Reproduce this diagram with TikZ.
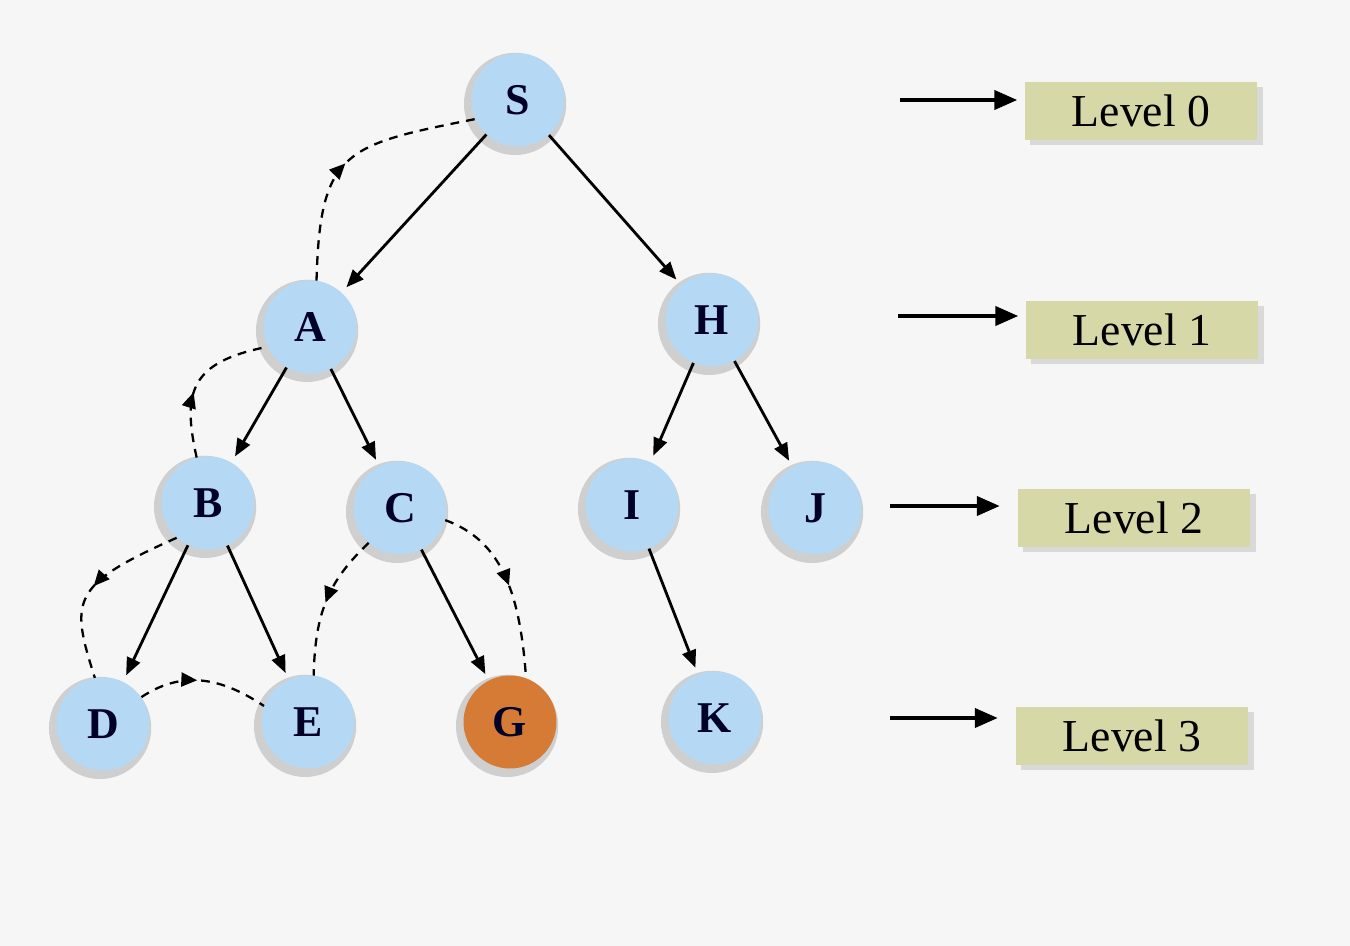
\documentclass[tikz,border=0pt]{standalone}
\usepackage{fontspec}
\setmainfont{Liberation Serif}
\usetikzlibrary{arrows.meta,shadows,decorations.markings}

\definecolor{pagebg}{HTML}{F6F6F6}
\definecolor{nodeblue}{HTML}{B5D8F4}
\definecolor{goalorange}{HTML}{D67B36}
\definecolor{levelkhaki}{HTML}{D6D9A7}
\definecolor{halo}{HTML}{CFCFCF}

\tikzset{
  treenode/.style={circle, fill=nodeblue, minimum size=1.86cm, inner sep=0pt,
    font=\fontsize{25}{30}\selectfont\bfseries, text=black!85!blue,
    drop shadow={shadow xshift=-1.5pt, shadow yshift=-2pt, shadow scale=1.1,
      fill=halo, opacity=1}},
  goalnode/.style={treenode, fill=goalorange},
  levelbox/.style={rectangle, fill=levelkhaki, minimum width=4.66cm,
    minimum height=1.16cm, inner sep=0pt, font=\fontsize{26}{30}\selectfont,
    drop shadow={shadow xshift=3pt, shadow yshift=-3pt, fill=black!15, opacity=1}},
  edge/.style={line width=1.6pt, -{Triangle[length=10pt,width=8pt]}},
  levelarrow/.style={line width=1.8pt, -{Triangle[length=13pt,width=11pt]}},
  walk/.style={line width=1.3pt, dash pattern=on 5pt off 4pt,
    postaction={decorate},
    decoration={markings, mark=at position #1 with
      {\arrow{Triangle[length=9pt,width=8pt]}}}}
}

\begin{document}
\begin{tikzpicture}[x=0.02cm, y=-0.02cm]
  % page
  \fill[pagebg] (0,0) rectangle (1350,946);
  \useasboundingbox (0,0) rectangle (1350,946);

  % tree nodes
  \node[treenode] (S) at (518,100) {S};
  \node[treenode] (A) at (310,327) {A};
  \node[treenode] (H) at (712,320) {H};
  \node[treenode] (B) at (208,503) {B};
  \node[treenode] (C) at (400,508) {C};
  \node[treenode] (I) at (632,505) {I};
  \node[treenode] (J) at (815,508) {J};
  \node[treenode] (D) at (103,724) {D};
  \node[treenode] (E) at (308,722) {E};
  \node[goalnode] (G) at (510,722) {G};
  \node[treenode] (K) at (715,718) {K};

  % tree edges
  \draw[edge, shorten >=4pt] (S) -- (A);
  \draw[edge, shorten >=4pt] (S) -- (H);
  \draw[edge, shorten >=4pt] (A) -- (B);
  \draw[edge, shorten >=4pt] (A) -- (C);
  \draw[edge, shorten >=4pt] (H) -- (I);
  \draw[edge, shorten >=4pt] (H) -- (J);
  \draw[edge, shorten >=4pt] (B) -- (D);
  \draw[edge, shorten >=4pt] (B) -- (E);
  \draw[edge, shorten >=4pt] (C) -- (G);
  \draw[edge, shorten >=4pt] (I) -- (K);

  % dashed search walk
  \draw[walk=0.47] (A.82) .. controls (320,150) and (345,145) .. (S.204);
  \draw[walk=0.42] (B.104) .. controls (182,392) and (190,362) .. (A.205);
  \draw[walk=0.5] (B.228) .. controls (70,585) and (70,600) .. (D.100);
  \draw[walk=0.45] (D.35) .. controls (185,668) and (225,680) .. (E.160);
  \draw[walk=0.5] (C.228) .. controls (330,580) and (315,610) .. (E.83);
  \draw[walk=0.5] (C.345) .. controls (500,540) and (520,590) .. (G.70);

  % level labels
  \node[levelbox] (L0) at (1141,111) {Level 0};
  \node[levelbox] (L1) at (1142,330) {Level 1};
  \node[levelbox] (L2) at (1134,518) {Level 2};
  \node[levelbox] (L3) at (1132,736) {Level 3};

  \coordinate (p0) at (900,100);
  \coordinate (p1) at (898,316);
  \coordinate (p2) at (890,506);
  \coordinate (p3) at (890,718);
  \draw[levelarrow, shorten >=4pt] (p0) -- (p0 -| L0.west);
  \draw[levelarrow, shorten >=4pt] (p1) -- (p1 -| L1.west);
  \draw[levelarrow, shorten >=10pt] (p2) -- (p2 -| L2.west);
  \draw[levelarrow, shorten >=10pt] (p3) -- (p3 -| L3.west);
\end{tikzpicture}
\end{document}
